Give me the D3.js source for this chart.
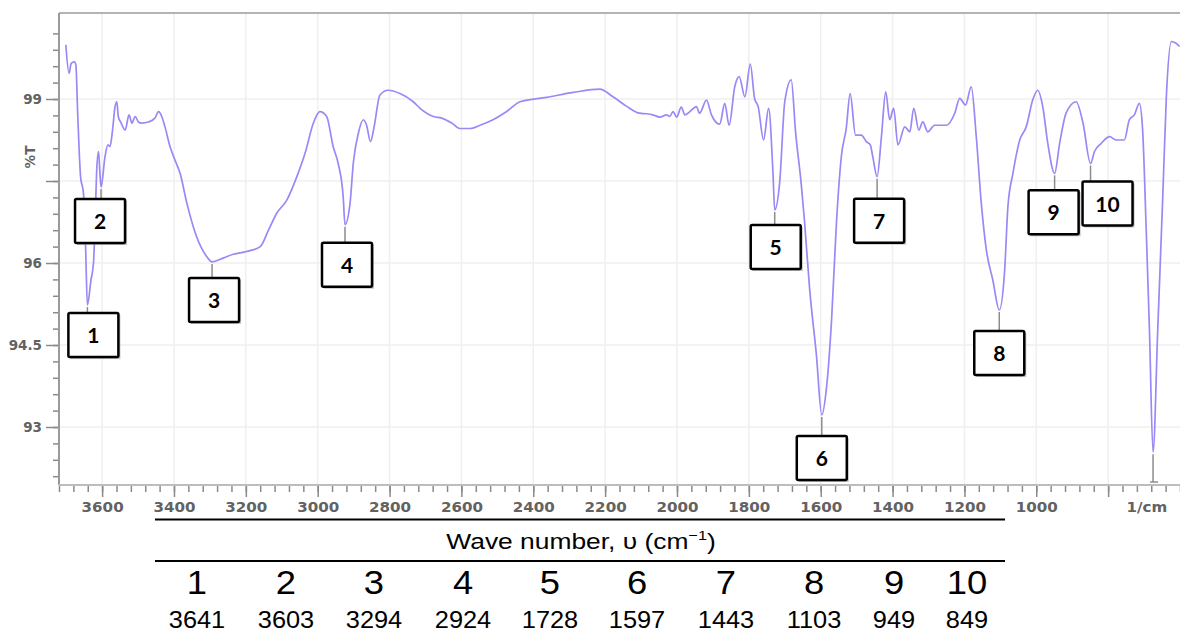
<!DOCTYPE html>
<html>
<head>
<meta charset="utf-8">
<title>FTIR spectrum</title>
<script src="https://cdn.jsdelivr.net/npm/d3@7"></script>
<style>
  body { margin: 0; background: #fff; }
  svg { display: block; }
</style>
</head>
<body>
<script>
// spectrum (cm-1 and %T)
var wavenumbers = [3701,3692,3686,3677,3673,3668,3660,3652,3646,3641,
  3631,3624,3619,3615,3610,3606,3603,3592,3584,3578,
  3571,3564,3559,3555,3547,3536,3525,3517,3508,3499,
  3490,3471,3453,3443,3434,3425,3411,3397,3383,3364,
  3337,3309,3294,3263,3235,3198,3160,3137,3114,3086,
  3058,3035,3012,2994,2975,2957,2943,2929,2924,2910,
  2901,2887,2873,2864,2853,2843,2827,2804,2771,2734,
  2715,2678,2655,2627,2604,2576,2548,2512,2474,2437,
  2363,2289,2215,2178,2141,2104,2085,2067,2048,2029,
  2020,2011,2001,1988,1978,1964,1946,1937,1918,1904,
  1881,1867,1855,1839,1827,1811,1796,1784,1774,1759,
  1745,1733,1728,1714,1700,1682,1670,1654,1645,1631,
  1612,1597,1584,1570,1556,1542,1529,1518,1503,1487,
  1473,1462,1455,1443,1431,1419,1408,1397,1385,1366,
  1352,1341,1327,1316,1302,1283,1250,1227,1213,1197,
  1181,1167,1153,1139,1121,1103,1088,1079,1065,1046,
  1028,1010,996,982,968,949,935,917,889,870,
  849,838,819,796,778,755,741,727,713,704,
  694,685,675,662,648,638,624,611,601];
var transmittance = [99.99,99.47,99.65,99.68,99.62,98.74,97.58,97.28,96.30,95.23,
  95.69,96.0,96.85,97.70,98.04,97.64,97.39,97.94,98.16,98.13,
  98.43,98.86,98.95,98.68,98.56,98.43,98.71,98.56,98.68,98.58,
  98.56,98.58,98.65,98.77,98.68,98.49,98.13,97.88,97.64,97.09,
  96.48,96.12,96.02,96.09,96.16,96.21,96.30,96.60,96.91,97.15,
  97.58,98.01,98.56,98.77,98.68,98.13,97.82,97.21,96.70,97.09,
  97.82,98.37,98.62,98.52,98.22,98.49,99.07,99.16,99.10,98.95,
  98.83,98.68,98.65,98.56,98.46,98.46,98.52,98.62,98.77,98.95,
  99.03,99.12,99.18,99.04,98.87,98.74,98.73,98.71,98.67,98.71,
  98.68,98.77,98.67,98.85,98.71,98.77,98.86,98.74,98.98,98.71,
  98.54,98.92,98.52,99.23,99.41,99.04,99.64,99.01,98.86,98.25,
  98.83,97.67,96.97,97.49,98.95,99.35,98.40,97.43,96.76,95.54,
  94.32,93.22,93.71,94.93,96.76,97.98,98.46,99.10,98.34,98.34,
  98.22,98.16,97.94,97.58,98.31,99.13,98.62,98.83,98.16,98.49,
  98.40,98.83,98.43,98.58,98.40,98.52,98.52,98.74,99.01,98.89,
  99.22,98.31,97.09,96.24,95.69,95.14,95.87,97.03,97.64,98.25,
  98.49,98.98,99.16,98.86,98.19,97.64,98.19,98.74,98.95,98.56,
  97.82,98.04,98.19,98.31,98.25,98.25,98.62,98.71,98.92,98.43,
  96.60,94.77,92.54,94.77,97.21,99.04,100.05,100.02,99.96];

var peakNumbers = [1,2,3,4,5,6,7,8,9,10];
var peakWavenumbers = [3641,3603,3294,2924,1728,1597,1443,1103,949,849];
var unlabeledPeak = 675;

var xMajorTicks = [3600,3400,3200,3000,2800,2600,2400,2200,2000,1800,1600,1400,1200,1000,800];
var yMajorTicks = [99,97.5,96,94.5,93];
var yTickLabels = ["99","","96","94.5","93"];
var xUnitLabel = "1/cm";
var yAxisTitle = "%T";
var tableTitle = "Wave number, \u03c5 (cm";

var W = 1180, H = 632;
var svg = d3.select("body").append("svg").attr("width", W).attr("height", H);

var plotTop = 13, plotBottom = 485, plotLeft = 59, plotRight = 1180;
var x = d3.scaleLinear().domain([3720, 600]).range([plotLeft, plotRight]);
var y = d3.scaleLinear().domain([93, 99]).range([427, 99]);

var data = wavenumbers.map(function(w, i){ return {w: w, t: transmittance[i]}; });

// grid
var grid = svg.append("g").attr("class", "grid");
grid.selectAll(".vg").data(xMajorTicks).enter().append("line")
  .attr("x1", d => x(d)).attr("x2", d => x(d))
  .attr("y1", plotTop).attr("y2", plotBottom)
  .attr("stroke", "#efefef").attr("stroke-width", 1.5);
grid.selectAll(".hg").data(yMajorTicks).enter().append("line")
  .attr("x1", plotLeft).attr("x2", plotRight)
  .attr("y1", d => y(d)).attr("y2", d => y(d))
  .attr("stroke", "#efefef").attr("stroke-width", 1.5);

// axes
var xMinor = d3.range(3720, 599, -40);
var yMinor = d3.range(0, 28).map(k => +(100.2 - 0.3 * k).toFixed(1));

svg.append("g").attr("transform", "translate(0," + plotBottom + ")")
  .call(d3.axisBottom(x).tickValues(xMinor).tickSize(7).tickFormat(""));
var xAx = svg.append("g").attr("transform", "translate(0," + plotBottom + ")")
  .call(d3.axisBottom(x).tickValues(xMajorTicks).tickSize(12).tickPadding(5)
    .tickFormat(d => d >= 1000 ? d : ""));
xAx.append("text").attr("x", x(692)).attr("y", 27).attr("text-anchor", "middle").attr("class", "unit").text(xUnitLabel);

svg.append("g").attr("transform", "translate(" + plotLeft + ",0)")
  .call(d3.axisLeft(y).tickValues(yMinor).tickSize(6).tickFormat(""));
var yAx = svg.append("g").attr("transform", "translate(" + plotLeft + ",0)")
  .call(d3.axisLeft(y).tickValues(yMajorTicks).tickSize(13).tickPadding(4)
    .tickFormat((d, i) => yTickLabels[i]));

svg.selectAll(".domain").remove();
svg.selectAll(".tick line").attr("stroke", "#8a8a8a").attr("stroke-width", 1.5);
svg.selectAll(".tick text, .unit").attr("fill", "#626262")
  .style("font-family", "'DejaVu Sans', sans-serif").style("font-weight", "bold").style("font-size", "13.5px");
xAx.selectAll(".tick text, .unit").attr("transform", function(){
  var tx = +d3.select(this).attr("x") || 0;
  return "translate(" + tx + ",0) scale(1.12,1) translate(" + (-tx) + ",0)";
});

svg.append("text").attr("transform", "translate(35,157) rotate(-90)")
  .attr("text-anchor", "middle").attr("fill", "#626262")
  .style("font-family", "'DejaVu Sans', sans-serif").style("font-weight", "bold").style("font-size", "13.5px")
  .text(yAxisTitle);

// frame
svg.append("line").attr("x1", plotLeft).attr("x2", plotRight).attr("y1", plotTop).attr("y2", plotTop)
  .attr("stroke", "#b4b4b4").attr("stroke-width", 2);
svg.append("line").attr("x1", plotLeft).attr("x2", plotLeft).attr("y1", plotTop).attr("y2", plotBottom)
  .attr("stroke", "#9a9a9a").attr("stroke-width", 2);
svg.append("line").attr("x1", plotLeft).attr("x2", plotRight).attr("y1", plotBottom).attr("y2", plotBottom)
  .attr("stroke", "#bdbdbd").attr("stroke-width", 2);

// spectrum
svg.append("path").datum(data)
  .attr("fill", "none").attr("stroke", "#9a88f6").attr("stroke-width", 1.7)
  .attr("stroke-linejoin", "round")
  .attr("d", d3.line().x(d => x(d.w)).y(d => y(d.t)).curve(d3.curveMonotoneX));

// peak labels
function tAt(w) { return data.find(d => d.w === w).t; }
var nudgeX = [6,-1,2,2,1,0,2,0,-1,17];
var gapY = [8,12,16,18,15,21,22,21,17,18];
var boxW = 50, boxH = 44;

var labels = svg.append("g").attr("class", "peaks");
peakWavenumbers.forEach(function(w, i){
  var px = x(w), py = y(tAt(w));
  var top = py + gapY[i], cx = px + nudgeX[i];
  labels.append("line").attr("x1", px).attr("x2", px).attr("y1", py + 2).attr("y2", top)
    .attr("stroke", "#8c8c8c").attr("stroke-width", 1.5);
  labels.append("rect").attr("x", cx - boxW/2 + 2).attr("y", top + 2).attr("width", boxW).attr("height", boxH)
    .attr("fill", "#9a9a9a").attr("opacity", 0.6);
  labels.append("rect").attr("x", cx - boxW/2).attr("y", top).attr("width", boxW).attr("height", boxH)
    .attr("fill", "#fff").attr("stroke", "#000").attr("stroke-width", 2.5).attr("rx", 1.5);
  labels.append("text").attr("x", cx).attr("y", top + boxH/2 + 8).attr("text-anchor", "middle")
    .style("font-family", "Lato, sans-serif").style("font-weight", "bold").style("font-size", "21px")
    .text(peakNumbers[i]);
});
var ux = x(unlabeledPeak), uy = y(tAt(unlabeledPeak));
labels.append("line").attr("x1", ux).attr("x2", ux).attr("y1", uy + 2).attr("y2", plotBottom - 3)
  .attr("stroke", "#8c8c8c").attr("stroke-width", 1.5);
labels.append("line").attr("x1", ux - 3).attr("x2", ux + 5).attr("y1", plotBottom - 3).attr("y2", plotBottom - 3)
  .attr("stroke", "#8c8c8c").attr("stroke-width", 1.5);

// table of wave numbers
var colX = [197,286,374,463,550,637,726,814,894,967];
function stretch(cx, k) { return "translate(" + cx + ",0) scale(" + k + ",1) translate(" + (-cx) + ",0)"; }
var tbl = svg.append("g").style("font-family", "'Liberation Sans', Arial, sans-serif").attr("fill", "#000");
tbl.append("line").attr("x1", 155).attr("x2", 1005).attr("y1", 519.5).attr("y2", 519.5).attr("stroke", "#000").attr("stroke-width", 2);
tbl.append("line").attr("x1", 155).attr("x2", 1005).attr("y1", 561).attr("y2", 561).attr("stroke", "#000").attr("stroke-width", 2);
var tt = tbl.append("text").attr("x", 581).attr("y", 549).attr("text-anchor", "middle")
  .attr("transform", stretch(581, 1.2)).style("font-size", "22px");
tt.append("tspan").text(tableTitle);
tt.append("tspan").attr("dy", -8.5).style("font-size", "13.5px").text("\u22121");
tt.append("tspan").attr("dy", 8.5).text(")");
tbl.selectAll(".num").data(peakNumbers).enter().append("text")
  .attr("x", (d, i) => colX[i]).attr("y", 594).attr("text-anchor", "middle")
  .attr("transform", (d, i) => stretch(colX[i], 1.12))
  .style("font-size", "32.5px").text(d => d);
tbl.selectAll(".wn").data(peakWavenumbers).enter().append("text")
  .attr("x", (d, i) => colX[i]).attr("y", 628.5).attr("text-anchor", "middle")
  .attr("transform", (d, i) => stretch(colX[i], 1.08))
  .style("font-size", "23.5px").text(d => d);
</script>
</body>
</html>
